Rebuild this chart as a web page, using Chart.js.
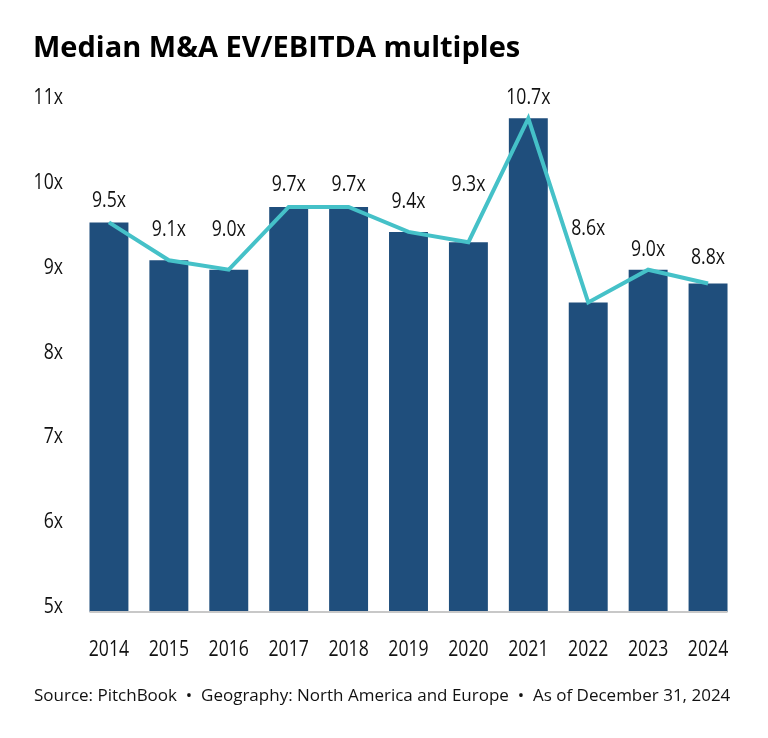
<!DOCTYPE html>
<html>
<head>
<meta charset="utf-8">
<script src="https://cdn.jsdelivr.net/npm/chart.js@4.4.1/dist/chart.umd.min.js"></script>
<style>
  html, body { margin: 0; padding: 0; background: #fff; }
  #wrap { position: relative; width: 768px; height: 738px; font-family: 'Open Sans', sans-serif; }
  #chart { position: absolute; left: 0; top: 0; }
  .title { position: absolute; left: 33px; top: 26px; font-size: 29px; font-weight: 700; color: #000; white-space: nowrap; line-height: 40px; }
  .source { position: absolute; left: 34px; top: 683px; font-size: 17px; color: #111; white-space: nowrap; line-height: 24px; }
</style>
</head>
<body>
<div id="wrap">
  <canvas id="chart" width="768" height="738"></canvas>
  <div class="title">Median M&amp;A EV/EBITDA multiples</div>
  <div class="source">Source: PitchBook &nbsp;&bull;&nbsp; Geography: North America and Europe &nbsp;&bull;&nbsp; As of December 31, 2024</div>
</div>
<script>
// chart data
const years = ["2014", "2015", "2016", "2017", "2018", "2019", "2020", "2021", "2022", "2023", "2024"];
const multiples = [9.53, 9.09, 8.98, 9.71, 9.71, 9.42, 9.30, 10.74, 8.60, 8.98, 8.82];
const yTicks = [5, 6, 7, 8, 9, 10, 11];

// how far above the bar top each value label sits (px)
const labelLift = [21, 30, 40, 22, 22, 30, 57, 20, 73, 20, 25];

// condensed look: draw text squeezed horizontally
function squeezed(ctx, text, x, y, align) {
  ctx.save();
  ctx.translate(x, y);
  ctx.scale(0.84, 1);
  ctx.textAlign = align;
  ctx.fillText(text, 0, 0);
  ctx.restore();
}

const extras = {
  id: "extras",
  afterDatasetsDraw(chart) {
    const ctx = chart.ctx;
    const bars = chart.getDatasetMeta(1).data;
    const y = chart.scales.y;
    ctx.save();
    // baseline under the bars
    const first = bars[0], last = bars[bars.length - 1];
    const yb = y.getPixelForValue(5);
    ctx.strokeStyle = "#c8c8c8";
    ctx.lineWidth = 2;
    ctx.beginPath();
    ctx.moveTo(first.x - first.width / 2, yb);
    ctx.lineTo(last.x + last.width / 2, yb);
    ctx.stroke();

    ctx.fillStyle = "#111";
    ctx.font = "21px 'Open Sans', sans-serif";
    ctx.textBaseline = "middle";
    // y tick labels (the source spaces them a touch tighter than the scale)
    yTicks.forEach(v => {
      const ty = yb - 5 - (yb - y.getPixelForValue(v)) * 0.986;
      squeezed(ctx, v + "x", 63, ty, "right");
    });
    // x tick labels
    bars.forEach((b, i) => squeezed(ctx, years[i], b.x, 650, "center"));
    // value labels
    bars.forEach((b, i) => squeezed(ctx, multiples[i].toFixed(1) + "x", b.x, b.y - labelLift[i], "center"));
    ctx.restore();
  }
};

new Chart(document.getElementById("chart"), {
  data: {
    labels: years,
    datasets: [
      {
        type: "line",
        data: multiples,
        borderColor: "#45c1c8",
        borderWidth: 4,
        pointRadius: 0,
        tension: 0,
        order: 0
      },
      {
        type: "bar",
        data: multiples,
        backgroundColor: "#1f4e7c",
        barPercentage: 0.65,
        categoryPercentage: 1,
        order: 1
      }
    ]
  },
  options: {
    responsive: false,
    animation: false,
    layout: { padding: { top: 96, right: 30, bottom: 126, left: 79 } },
    plugins: {
      legend: { display: false },
      tooltip: { enabled: false }
    },
    scales: {
      x: { display: false, offset: true },
      y: { display: false, min: 5, max: 11 }
    }
  },
  plugins: [extras]
});
</script>
</body>
</html>
